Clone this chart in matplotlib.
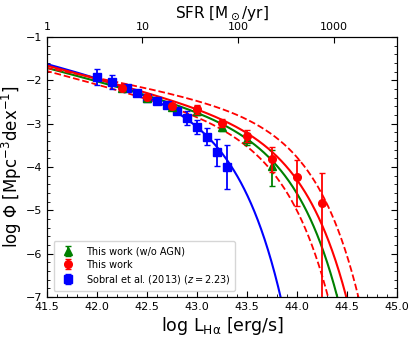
import numpy as np
import matplotlib
matplotlib.use("Agg")
import matplotlib.pyplot as plt
from matplotlib.ticker import MultipleLocator, FixedLocator, FixedFormatter, NullLocator

# ---------------- data ----------------
# Sobral et al. (2013) z=2.23
sob_x = [42.0, 42.15, 42.3, 42.4, 42.5, 42.6, 42.7, 42.8, 42.9, 43.0, 43.1, 43.2, 43.3]
sob_y = [-1.92, -2.05, -2.18, -2.29, -2.40, -2.49, -2.58, -2.72, -2.88, -3.08, -3.30, -3.66, -4.00]
sob_e = [0.18, 0.16, 0.04, 0.04, 0.04, 0.04, 0.05, 0.06, 0.16, 0.17, 0.19, 0.31, 0.50]

# This work
tw_x = [42.25, 42.5, 42.75, 43.0, 43.25, 43.5, 43.75, 44.0, 44.25]
tw_y = [-2.17, -2.38, -2.60, -2.67, -2.99, -3.28, -3.82, -4.22, -4.83]
tw_eup = [0.05, 0.05, 0.06, 0.10, 0.09, 0.13, 0.27, 0.38, 0.68]
tw_elo = [0.05, 0.05, 0.06, 0.10, 0.09, 0.14, 0.29, 0.68, 2.60]

# This work (w/o AGN)
na_x = [42.25, 42.5, 42.75, 43.0, 43.25, 43.5, 43.75]
na_y = [-2.19, -2.40, -2.62, -2.70, -3.07, -3.35, -3.98]
na_eup = [0.05, 0.05, 0.06, 0.10, 0.10, 0.13, 0.37]
na_elo = [0.05, 0.05, 0.06, 0.10, 0.10, 0.14, 0.47]

# Schechter parameters: (log phi*, log L*, alpha)
sch_sobral = (-2.78, 42.87, -1.59)
sch_this = (-3.27, 43.58, -1.60)
sch_noagn = (-3.268, 43.49, -1.60)
sch_this_hi = (-3.04, 43.66, -1.445)
sch_this_lo = (-3.285, 43.40, -1.60)

# SFR axis ticks
sfr_ticks = [1, 10, 100, 1000]
sfr_labels = ["1", "10", "100", "1000"]


def schechter(logL, p):
    lphi, lLs, a = p
    r = 10 ** (logL - lLs)
    return np.log10(np.log(10) * 10 ** lphi * r ** (a + 1) * np.exp(-r))


# ---------------- plot ----------------
fig = plt.figure(figsize=(4.15, 3.38), dpi=100)
ax = fig.add_axes([0.113, 0.121, 0.844, 0.770])

xx = np.linspace(41.0, 45.5, 800)
ax.plot(xx, schechter(xx, sch_sobral), color="blue", lw=1.5, zorder=2)
ax.plot(xx, schechter(xx, sch_noagn), color="green", lw=1.5, zorder=2)
ax.plot(xx, schechter(xx, sch_this), color="red", lw=1.5, zorder=2)
ax.plot(xx, schechter(xx, sch_this_hi), color="red", lw=1.3, ls="--", zorder=2)
ax.plot(xx, schechter(xx, sch_this_lo), color="red", lw=1.3, ls="--", zorder=2)

hb = ax.errorbar(sob_x, sob_y, yerr=sob_e, fmt="s", color="blue", ms=5.5,
                 capsize=2, elinewidth=1.3, zorder=3,
                 label=r"Sobral et al. (2013) ($z=2.23$)")
hg = ax.errorbar(na_x, na_y, yerr=[na_elo, na_eup], fmt="^", color="green", ms=5.5,
                 capsize=2, elinewidth=1.3, zorder=4, label="This work (w/o AGN)")
hr = ax.errorbar(tw_x, tw_y, yerr=[tw_elo, tw_eup], fmt="o", color="red", ms=5.5,
                 capsize=2, elinewidth=1.3, zorder=5, label="This work")

ax.set_xlim(41.5, 45.0)
ax.set_ylim(-7, -1)
ax.xaxis.set_major_locator(MultipleLocator(0.5))
ax.xaxis.set_minor_locator(MultipleLocator(0.1))
ax.yaxis.set_major_locator(MultipleLocator(1))
ax.yaxis.set_minor_locator(MultipleLocator(0.2))
ax.xaxis.set_major_formatter(matplotlib.ticker.FormatStrFormatter("%.1f"))
ax.tick_params(which="both", direction="in", right=True, top=False, labelsize=8)
ax.tick_params(which="major", length=4)
ax.tick_params(which="minor", length=2)

ax.set_xlabel(r"log L$_{\rm H\alpha}$ [erg/s]", fontsize=12.5, labelpad=2)
ax.set_ylabel(r"log $\Phi$ [Mpc$^{-3}$dex$^{-1}$]", fontsize=12, labelpad=1)

# top SFR axis
scale = 0.955
ax2 = ax.twiny()
ax2.set_xscale("log")
ax2.set_xlim(1, 10 ** (3.5 / scale))
ax2.xaxis.set_major_locator(FixedLocator(sfr_ticks))
ax2.xaxis.set_major_formatter(FixedFormatter(sfr_labels))
ax2.xaxis.set_minor_locator(NullLocator())
ax2.tick_params(which="both", direction="in", labelsize=8, length=4)
ax2.set_xlabel(r"SFR [M$_\odot$/yr]", fontsize=11, labelpad=3)

leg = ax.legend(handles=[hg, hr, hb], loc="lower left", fontsize=7,
                frameon=True, handletextpad=0.8, borderpad=0.5,
                labelspacing=0.35, bbox_to_anchor=(0.005, 0.005))

fig.savefig("out.png", dpi=100)
